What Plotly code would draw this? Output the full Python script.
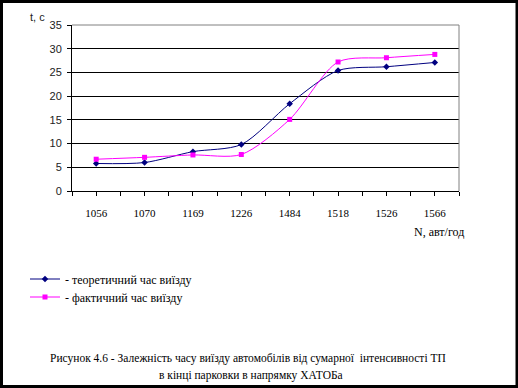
import plotly.graph_objects as go

categories = ["1056", "1070", "1169", "1226", "1484", "1518", "1526", "1566"]
theoretical = [5.8, 6.0, 8.3, 9.8, 18.4, 25.4, 26.2, 27.1]
actual = [6.7, 7.1, 7.6, 7.7, 15.1, 27.2, 28.1, 28.8]

name_theor = "- теоретичний час виїзду"
name_actual = "- фактичний час виїзду"
y_title = "t, c"
x_title = "N, авт/год"
caption1 = "Рисунок 4.6 - Залежність часу виїзду автомобілів від сумарної  інтенсивності ТП"
caption2 = "в кінці парковки в напрямку ХАТОБа"

W, H = 518, 388
L, R, T, B = 72, 59, 25, 197
pw, ph = W - L - R, H - T - B


def px(x):
    return (x - L) / pw


def py(y):
    return (H - B - y) / ph


serif = "Liberation Serif, Times New Roman, serif"
sans = "Liberation Sans, Arial, sans-serif"

fig = go.Figure()
fig.add_trace(go.Scatter(
    x=categories, y=theoretical, name=name_theor, mode="lines+markers",
    line=dict(color="#000080", width=1, shape="spline", smoothing=0.8),
    marker=dict(symbol="diamond", size=5, color="#000080"),
    legend="legend",
))
fig.add_trace(go.Scatter(
    x=categories, y=actual, name=name_actual, mode="lines+markers",
    line=dict(color="#FF00FF", width=1, shape="spline", smoothing=0.8),
    marker=dict(symbol="square", size=5, color="#FF00FF"),
    legend="legend2",
))

legend_common = dict(
    xanchor="left", yanchor="middle",
    font=dict(family=serif, size=12, color="black"),
    bgcolor="rgba(0,0,0,0)", itemwidth=30, borderwidth=0,
)

fig.update_layout(
    width=W, height=H,
    font=dict(family=serif, size=12, color="black"),
    margin=dict(l=L, r=R, t=T, b=B, pad=0),
    paper_bgcolor="white", plot_bgcolor="white",
    showlegend=True,
    legend=dict(x=px(25), y=py(279), **legend_common),
    legend2=dict(x=px(25), y=py(297), **legend_common),
    xaxis=dict(
        type="category", categoryorder="array", categoryarray=categories,
        range=[-0.5, len(categories) - 0.5],
        showline=True, linecolor="black", linewidth=1,
        ticks="outside", ticklen=4, tickcolor="black",
        showgrid=False, zeroline=False,
        tickfont=dict(family=serif, size=11, color="black"),
        ticklabelstandoff=8,
    ),
    xaxis2=dict(
        overlaying="x", anchor="y", side="bottom",
        range=[-0.5, len(categories) - 0.5], tick0=-0.5, dtick=1,
        ticks="outside", ticklen=4, tickcolor="black",
        showticklabels=False, showgrid=False, zeroline=False, showline=False,
    ),
    yaxis=dict(
        range=[0, 35], dtick=5, tick0=0,
        showline=True, linecolor="black", linewidth=1,
        ticks="outside", ticklen=4, tickcolor="black",
        showgrid=True, gridcolor="black", gridwidth=1, zeroline=False,
        tickfont=dict(family=sans, size=11, color="#222222"),
        ticklabelstandoff=3,
    ),
)

# invisible helper trace so the secondary tick axis is rendered
fig.add_trace(go.Scatter(x=[0], y=[0], xaxis="x2", mode="markers",
                         marker=dict(opacity=0), showlegend=False,
                         hoverinfo="skip"))

# gray plot-area frame (top and right)
fig.add_shape(type="path", xref="paper", yref="paper",
              path="M 0 1 L 1 1 L 1 0", line=dict(color="#808080", width=1),
              layer="above")

# outer black frame of the picture
fig.add_shape(type="rect", xref="paper", yref="paper",
              x0=px(1.5), x1=px(517), y0=py(386.5), y1=py(1.5),
              line=dict(color="black", width=3), layer="above")

fig.add_annotation(text=y_title, xref="paper", yref="paper", x=px(47), y=py(17),
                   xanchor="right", yanchor="middle", showarrow=False,
                   font=dict(family=sans, size=11, color="#222222"))
fig.add_annotation(text=x_title, xref="paper", yref="paper", x=px(466), y=py(232),
                   xanchor="right", yanchor="middle", showarrow=False,
                   font=dict(family=serif, size=12, color="black"))
fig.add_annotation(text=caption1, xref="paper", yref="paper", x=px(248), y=py(358),
                   xanchor="center", yanchor="middle", showarrow=False,
                   font=dict(family=serif, size=11.5, color="black"))
fig.add_annotation(text=caption2, xref="paper", yref="paper", x=px(251), y=py(375),
                   xanchor="center", yanchor="middle", showarrow=False,
                   font=dict(family=serif, size=11.5, color="black"))

fig.write_html("out.html", config={"displayModeBar": False},
               post_script="document.body.style.margin='0';document.body.style.padding='0';")
